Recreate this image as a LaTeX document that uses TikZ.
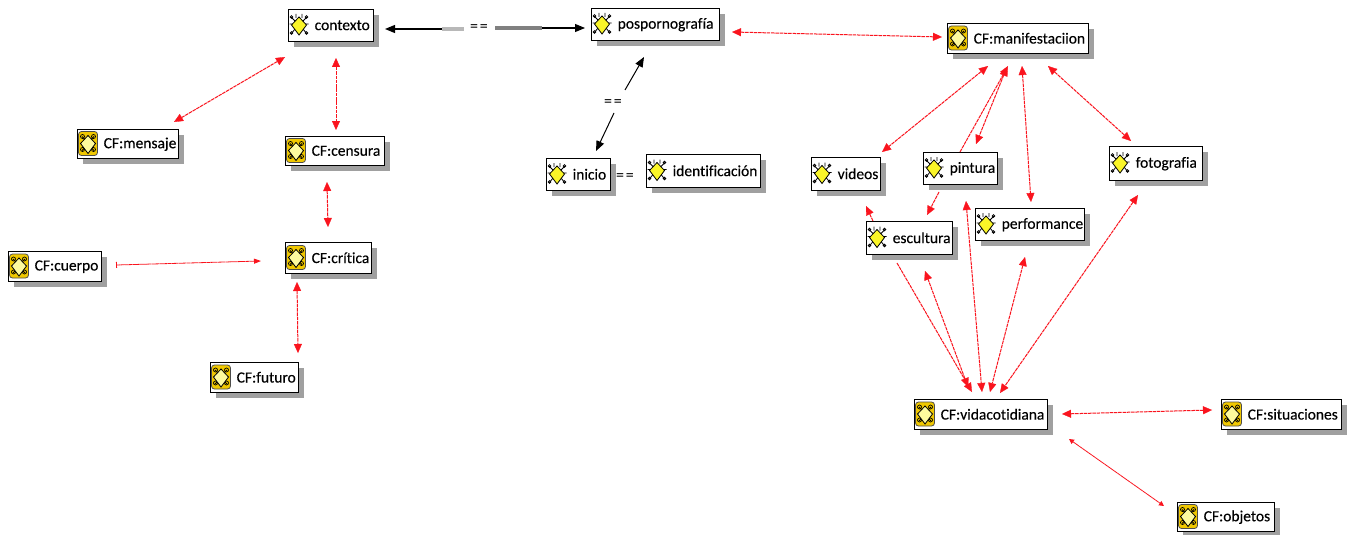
\documentclass[tikz,border=0pt]{standalone}
\usepackage{fontspec}
\setmainfont[Ligatures=NoCommon,FakeBold=0.25]{Carlito}
\newfontfamily\eqfont[LetterSpace=12]{Carlito}
\usetikzlibrary{arrows.meta}
\definecolor{shade}{RGB}{160,160,160}
\definecolor{cfgold}{RGB}{240,200,0}
\definecolor{bugyellow}{RGB}{250,245,40}
\definecolor{linkred}{RGB}{250,20,30}
\tikzset{
  x=1pt,y=-1pt,
  boxnode/.style={draw=black,line width=1.4pt,fill=white,inner sep=0pt,anchor=north west,align=left,font=\fontsize{15.5}{18}\selectfont},
  shadowbox/.style={fill=shade,draw=none},
  bighead/.tip={Triangle[length=9pt,width=8pt,fill=linkred,line width=0.3pt]},
  link/.style={draw=linkred,line width=1pt,dash pattern=on 3.5pt off 0.8pt,bighead-bighead},
  onehead/.style={draw=linkred,line width=1pt,dash pattern=on 3.5pt off 0.8pt,-bighead},
  thinlink/.style={draw=linkred,line width=0.8pt,dash pattern=on 3.5pt off 0.4pt,{Triangle[length=5pt,width=5pt,fill=linkred]}-{Triangle[length=5pt,width=5pt,fill=linkred]}},
  blackhead/.style={draw=black,line width=1pt,-{Triangle[length=10pt,width=8pt]}},
  eqlabel/.style={font=\eqfont\fontsize{16}{16}\selectfont,inner sep=1pt},
  bugpic/.pic={
    \draw[black,line width=0.8pt] (-8,-8)--(-4,-4) (8,-8)--(4,-4) (-9.5,-1)--(9.5,-1) (-8,9)--(-4,4) (8,9)--(4,4) (-3,-11)--(-3,-7) (3,-11)--(3,-7);
    \draw[black,line width=0.6pt] (-7.5,-8) circle (1.4) (7.5,-8) circle (1.4) (-7.5,8) circle (1.4) (7.5,8) circle (1.4);
    \draw[black,fill=bugyellow,line width=0.8pt] (0,-8)--(7.5,0)--(0,10)--(-7.5,0)--cycle;
  },
  cfpic/.pic={
    \draw[black!70,fill=cfgold,rounded corners=3pt,line width=0.8pt] (-9.5,-12) rectangle (9.5,12);
    \draw[black,line width=0.8pt] (-6,-7)--(-2,-3) (6,-7)--(2,-3) (-6,7)--(-2,3) (6,7)--(2,3);
    \draw[black,line width=0.7pt] (-5.5,-7) circle (2) (5.5,-7) circle (2) (-5.5,6) circle (2) (5.5,6) circle (2);
    \draw[black,fill=bugyellow!45,line width=0.8pt] (0,-8)--(7.5,0)--(0,10)--(-7.5,0)--cycle;
  }
}
% name, left, top, right, bottom, pic, text indent, text
\newcommand{\ibox}[8]{%
  \fill[shadowbox] (#2+6,#3+6) rectangle (#4+6,#5+6);
  \pgfmathsetmacro{\bw}{#4-#2}\pgfmathsetmacro{\bh}{#5-#3}%
  \node[boxnode,minimum height=\bh pt,text width=\bw pt] (#1) at (#2,#3) {\hspace*{#7pt}\raisebox{1pt}{#8}};
  \pic at (#2+11,#3+0.5*#5-0.5*#3) {#6};
}
\begin{document}
\begin{tikzpicture}
\useasboundingbox (0,0) rectangle (1351,535);
\fill[white] (0,0) rectangle (1351,535);

\ibox{contexto}{288}{9}{373}{41}{bugpic}{26}{contexto}
\ibox{pos}{591}{8}{719}{40}{bugpic}{26}{pospornografía}
\ibox{inicio}{546}{158}{610}{190}{bugpic}{26}{inicio}
\ibox{ident}{646}{154}{760}{187}{bugpic}{26}{identificación}
\ibox{mensaje}{77}{129}{178}{158}{cfpic}{26}{CF:mensaje}
\ibox{censura}{285}{136}{384}{165}{cfpic}{26}{CF:censura}
\ibox{critica}{285}{242}{371}{273}{cfpic}{26}{CF:crítica}
\ibox{cuerpo}{8}{251}{101}{281}{cfpic}{26}{CF:cuerpo}
\ibox{futuro}{210}{362}{298}{392}{cfpic}{26}{CF:futuro}
\ibox{manif}{947}{23}{1088}{53}{cfpic}{26}{CF:manifestaciion}
\ibox{videos}{811}{157}{880}{190}{bugpic}{26}{videos}
\ibox{pintura}{923}{152}{997}{184}{bugpic}{26}{pintura}
\ibox{foto}{1109}{146}{1202}{180}{bugpic}{26}{fotografia}
\ibox{perf}{975}{208}{1084}{240}{bugpic}{26}{performance}
\ibox{escul}{866}{221}{952}{254}{bugpic}{26}{escultura}
\ibox{vida}{914}{399}{1047}{429}{cfpic}{26}{CF:vidacotidiana}
\ibox{situ}{1221}{399}{1341}{429}{cfpic}{26}{CF:situaciones}
\ibox{obj}{1177}{502}{1274}{531}{cfpic}{26}{CF:objetos}

% left-hand cluster: offsets measured from each box's north west corner
\draw[link] ([shift={(48,49)}]contexto.north west) -- ([shift={(51,-6)}]censura.north west);
\draw[link] ([shift={(-3,48)}]contexto.north west) -- ([shift={(97,-7)}]mensaje.north west);
\draw[link] ([shift={(42,46)}]censura.north west) -- ([shift={(43,-15)}]critica.north west);
\draw[thinlink,{Bar[width=6pt,length=1pt]}-{Triangle[length=7pt,width=5pt,fill=linkred]}] ([shift={(108,14)}]cuerpo.north west) -- ([shift={(-24,19)}]critica.north west);
\draw[link] ([shift={(12,40)}]critica.north west) -- ([shift={(88,-9)}]futuro.north west);

% black equivalences
\node[eqlabel] (eqa) at (479,28) {==};
\node[eqlabel] (eqb) at (613,103) {==};
\node[eqlabel] (eqc) at (625,177) {==};
\coordinate (ca) at (442,29);
\coordinate (cb) at (542,28);
\draw[black,line width=1.1pt,{Triangle[length=10pt,width=8pt]}-] ([shift={(97,20)}]contexto.north west) -- (ca);
\draw[line width=3.5pt,black!28] (ca) -- ([shift={(-15,1)}]eqa.center);
\draw[line width=3.5pt,black!50] ([xshift=16]eqa.center) -- (cb);
\draw[blackhead,line width=1.1pt] (cb) -- ([shift={(-6,20)}]pos.north west);
\draw[blackhead] ([shift={(12,-13)}]eqb.center) -- ([shift={(53,49)}]pos.north west);
\draw[blackhead] ([shift={(1,10)}]eqb.center) -- ([shift={(50,-7)}]inicio.north west);

% posporno to manifestacion
\draw[link] ([shift={(141,24)}]pos.north west) -- ([shift={(-5,14)}]manif.north west);

% manifestacion fan
\draw[link] ([shift={(41,43)}]manif.north west) -- ([shift={(71,-5)}]videos.north west);
\draw[onehead] ([shift={(37,0)}]pintura.north west) -- ([shift={(61,43)}]manif.north west);
\draw[link] ([shift={(60,44)}]manif.north west) -- ([shift={(53,-8)}]pintura.north west);
\draw[link] ([shift={(75,43)}]manif.north west) -- ([shift={(56,-6)}]perf.north west);
\draw[link] ([shift={(101,43)}]manif.north west) -- ([shift={(22,-5)}]foto.north west);
\draw[onehead] ([shift={(16,40)}]pintura.north west) -- ([shift={(61,-6)}]escul.north west);
\draw[onehead] ([shift={(7,0)}]escul.north west) -- ([shift={(55,49)}]videos.north west);

% towards vidacotidiana
\draw[onehead] ([shift={(31,42)}]escul.north west) -- ([shift={(58,-7)}]vida.north west);
\draw[link] ([shift={(54,-12)}]vida.north west) -- ([shift={(59,50)}]escul.north west);
\draw[link] ([shift={(43,49)}]pintura.north west) -- ([shift={(68,-7)}]vida.north west);
\draw[link] ([shift={(50,49)}]perf.north west) -- ([shift={(76,-7)}]vida.north west);
\draw[link] ([shift={(29,49)}]foto.north west) -- ([shift={(86,-6)}]vida.north west);
\draw[link] ([shift={(148,15)}]vida.north west) -- ([shift={(-9,11)}]situ.north west);
\draw[thinlink] ([shift={(155,40)}]vida.north west) -- ([shift={(-13,4)}]obj.north west);
\end{tikzpicture}
\end{document}
